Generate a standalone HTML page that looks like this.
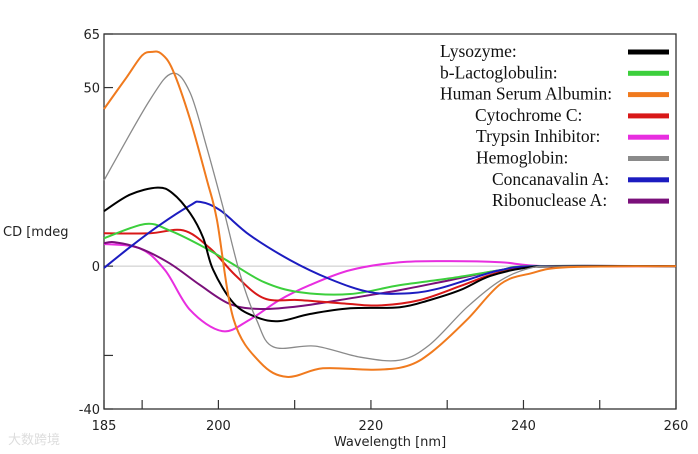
<!DOCTYPE html>
<html><head><meta charset="utf-8"><style>
body{margin:0;background:#fff;width:698px;height:454px;overflow:hidden}
svg{display:block}
.t{font-family:"DejaVu Sans","Liberation Sans",sans-serif;font-size:13px;fill:#222}
.lg{font-family:"Liberation Serif",serif;font-size:17.5px;fill:#111}
</style></head><body>
<svg id="chart" width="698" height="454">
<g id="axes"></g>
<g id="series"></g>
<g id="legend"></g>
<text class="t" x="3" y="236">CD [mdeg</text>
<text class="t" x="390" y="446" text-anchor="middle">Wavelength [nm]</text>
<text x="8" y="444" font-family="Noto Sans CJK SC,sans-serif" font-size="13" fill="#ddd">大数跨境</text>
</svg>
<script>
const xTickVals=[185,190,200,210,220,230,240,250,260];
const xTickLabels=["185","","200","","220","","240","","260"];
const yTickVals=[65,50,0,-25,-40];
const yTickLabels=["65","50","0","","-40"];
const names=["Lysozyme:","b-Lactoglobulin:","Human Serum Albumin:","Cytochrome C:","Trypsin Inhibitor:","Hemoglobin:","Concanavalin A:","Ribonuclease A:"];
const colors=["#000000","#3ccf3c","#f07a1e","#d81818","#e82ee0","#8a8a8a","#1c1cc0","#7a107a"];
const lysoX=[185,188.4,192,194,196.3,198,199.3,202,205,208,212,217.3,223.8,227.7,231.7,235.6,240.2,245,260];
const lysoY=[15.4,20,22,20.4,14.8,8,-1,-10.4,-14.3,-15.4,-13.4,-11.8,-11.5,-9.5,-6.7,-2.8,-0.5,0,0];
const lactX=[185,190.4,193.6,197.6,201.5,206,210.7,217.3,223.8,230.4,237,241,260];
const lactY=[7.8,11.8,10,5.9,1.1,-4.5,-7.3,-7.8,-5.3,-3.4,-1.1,0,0];
const hsaX=[185,188,190,191.3,192.5,194,196.3,198.5,199.8,202,205.5,209,213.7,220.3,224.7,228,232.6,237,241,245.7,260];
const hsaY=[44,53,59,60,59.5,55,41,24,13,-15,-27,-31,-28.6,-29,-28,-24,-15,-5,-2,-0.3,0];
const cytX=[185,191,195.4,198.9,202.2,206,210.7,217.3,221.2,226.4,231.7,235.6,239.5,245,260];
const cytY=[9.2,9.2,10,5,-2.5,-9,-9.5,-10.6,-11,-9.5,-5.6,-2.5,-0.5,0,0];
const trypX=[185,189.7,193,196.3,200.5,204.1,208,212,217.3,223.8,230.4,237,243,260];
const trypY=[6.2,5,-1.1,-12.3,-18.2,-15,-9.5,-5.3,-1.1,1.1,1.4,1.1,0,0];
const hemoX=[185,191,194,196.3,198.5,200.6,202.8,205,207.2,212.7,218.6,223.8,227.7,232.6,237,241,245,260];
const hemoY=[24,46.5,54,48.5,33,16.5,-2,-15,-22.6,-22.4,-25.5,-26.3,-22,-11.5,-4,-0.5,0,0];
const conX=[185,188.4,192.3,196.3,197.6,200.2,204.1,209.4,214.6,219.9,225.1,229,233,237,242,260];
const conY=[-0.5,5.3,11.5,17,18,15.7,8.7,1.7,-3.6,-7.3,-7.6,-6.2,-3.6,-1.1,0,0];
const ribX=[185,186.4,189.7,193.6,197.6,201.5,205.5,210.7,217.3,223.8,230.4,237,243,260];
const ribY=[6.4,6.7,5,0.8,-5.3,-10.6,-12,-11.2,-9,-6.7,-3.9,-1.1,0,0];
const seriesX=[lysoX,lactX,hsaX,cytX,trypX,hemoX,conX,ribX];
const seriesY=[lysoY,lactY,hsaY,cytY,trypY,hemoY,conY,ribY];
const seriesKeys=["lysozyme","b-lactoglobulin","human-serum-albumin","cytochrome-c","trypsin-inhibitor","hemoglobin","concanavalin-a","ribonuclease-a"];

const L=104,R=676,T=34,B=409,x0=185,x1=260,y0=-40,y1=65;
const sx=v=>L+(v-x0)/(x1-x0)*(R-L);
const sy=v=>B-(v-y0)/(y1-y0)*(B-T);
const NS="http://www.w3.org/2000/svg";
function mk(tag,attrs,parent){const e=document.createElementNS(NS,tag);for(const k in attrs)e.setAttribute(k,attrs[k]);parent.appendChild(e);return e;}
const ax=document.getElementById('axes');
let zl=mk('line',{x1:L,x2:R,y1:sy(0),y2:sy(0),stroke:'#c8c8c8','stroke-width':1},ax);


let fr=mk('rect',{x:L,y:T,width:R-L,height:B-T,fill:'none',stroke:'#333','stroke-width':1.3},ax);


xTickVals.forEach((v,i)=>{
  let tk=mk('line',{x1:sx(v),x2:sx(v),y1:B,y2:B-9,stroke:'#333','stroke-width':1.2},ax);
  
  
  if(xTickLabels[i]){let t=mk('text',{x:sx(v),y:B+21,'text-anchor':'middle',class:'t'},ax);t.textContent=xTickLabels[i];
  
  }
});
yTickVals.forEach((v,i)=>{
  let tk=mk('line',{x1:L,x2:L+9,y1:sy(v),y2:sy(v),stroke:'#333','stroke-width':1.2},ax);
  
  
  if(yTickLabels[i]){let t=mk('text',{x:L-4,y:sy(v)+5,'text-anchor':'end',class:'t'},ax);t.textContent=yTickLabels[i];
  
  }
});
function smooth(px,py){let d=`M${px[0]},${py[0]}`;for(let i=0;i<px.length-1;i++){const p0=i?i-1:i,p3=i+2<px.length?i+2:i+1;
 const c1x=px[i]+(px[i+1]-px[p0])/6,c1y=py[i]+(py[i+1]-py[p0])/6,c2x=px[i+1]-(px[p3]-px[i])/6,c2y=py[i+1]-(py[p3]-py[i])/6;
 d+=` C${c1x.toFixed(1)},${c1y.toFixed(1)} ${c2x.toFixed(1)},${c2y.toFixed(1)} ${px[i+1].toFixed(1)},${py[i+1].toFixed(1)}`;}return d;}
const sg=document.getElementById('series');
const order=[4,7,3,1,6,0,5,2];
order.forEach(i=>{
  const p=mk('path',{d:smooth(seriesX[i].map(sx),seriesY[i].map(sy)),fill:'none',stroke:colors[i],'stroke-width':i==5?1.3:2,'stroke-linejoin':'round'},sg);
  
  
});
const lg=document.getElementById('legend');
const lx=[440,440,440,475,476,476,492,492];
names.forEach((n,i)=>{
  const y=52+i*21.3;
  const t=mk('text',{x:lx[i],y:y+5,class:'lg'},lg);t.textContent=n;
  
  
  const s=mk('rect',{x:628,y:y-2.5,width:41,height:5,fill:colors[i]},lg);
  
  
});
</script>
</body></html>
